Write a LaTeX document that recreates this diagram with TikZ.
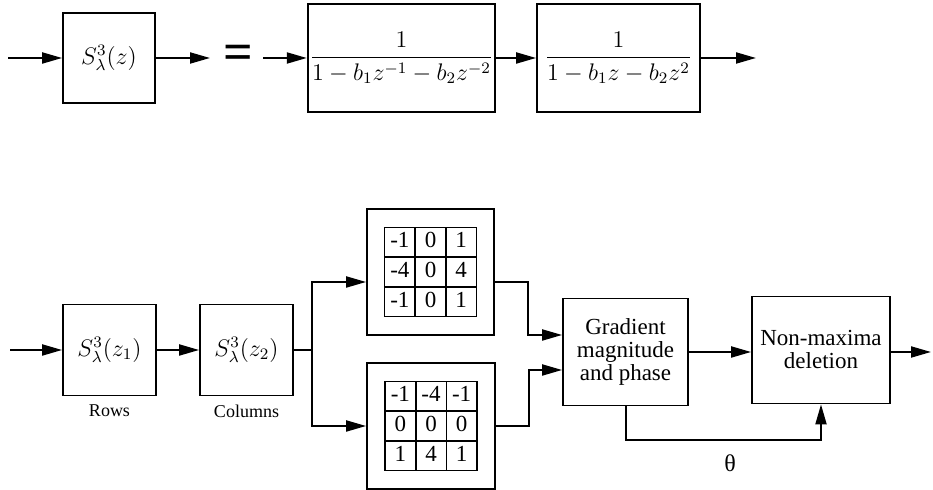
\documentclass[tikz,border=0pt]{standalone}
\usepackage{fontspec}
\setmainfont{Liberation Serif}
\usepackage{amsmath}
\usepackage{array}
\usetikzlibrary{arrows.meta,positioning}
\newcolumntype{K}{wc{14.5pt}}
\tikzset{
  block/.style={draw, line width=0.9pt, inner sep=1pt, align=center,
    font=\fontsize{11.5}{11.5}\selectfont},
  kernel/.style={draw, line width=0.9pt, inner sep=0pt,
    font=\fontsize{11.5}{12}\selectfont},
  sublabel/.style={font=\fontsize{9}{10}\selectfont, inner sep=1pt},
  arr/.style={line width=1pt, -{Triangle[length=10pt,width=5.5pt]}},
  wire/.style={line width=1pt},
}

\begin{document}
\begin{tikzpicture}[x=0.5pt, y=-0.5pt]
        \useasboundingbox (0,0) rectangle (933,490);

        % Top row: factorisation of the smoothing filter
        \node[block, minimum width=46pt, minimum height=45pt] at (109,58) (sz) {$S^3_\lambda(z)$};
        \node[font=\fontsize{26}{26}\selectfont\bfseries, inner sep=0pt] at (238,57) (equals) {=};
        \node[block, minimum width=81.5pt, minimum height=54pt] at (401.5,58) (causal)
                {$\dfrac{1}{1-b_1z^{-1}-b_2z^{-2}}$};
        \node[block, minimum width=81.5pt, minimum height=54pt] at (618.5,58) (anticausal)
                {$\dfrac{1}{1-b_1z-b_2z^{2}}$};

        \coordinate (sz_in) at (8,58);
        \coordinate (sz_out) at (210,58);
        \coordinate (causal_in) at (263,58);
        \coordinate (anticausal_out) at (756,58);

        \draw [arr] (sz_in) -- (sz);
        \draw [arr] (sz) -- (sz_out);
        \draw [arr] (causal_in) -- (causal);
        \draw [arr] (causal) -- (anticausal);
        \draw [arr] (anticausal) -- (anticausal_out);

        % Bottom row: edge detector
        \node[block, minimum width=46.5pt, minimum height=45.5pt] at (109.5,350) (rows) {$S^3_\lambda(z_1)$};
        \node[sublabel, below=3pt of rows] (rows_lbl) {Rows};

        \node[block, minimum width=46.5pt, minimum height=45.5pt] at (246.5,350) (cols) {$S^3_\lambda(z_2)$};
        \node[sublabel, below=3pt of cols] (cols_lbl) {Columns};

        \node[kernel, minimum width=63.5pt, minimum height=63pt] at (430.5,272) (kx) {%
                \setlength{\tabcolsep}{0pt}\setlength{\arrayrulewidth}{0.8pt}%
                \renewcommand{\arraystretch}{1.17}%
                \begin{tabular}{|K|K|K|}\hline
                -1 & 0 & 1\\\hline
                -4 & 0 & 4\\\hline
                -1 & 0 & 1\\\hline
                \end{tabular}};
        \node[kernel, minimum width=64pt, minimum height=63pt] at (431,426) (ky) {%
                \setlength{\tabcolsep}{0pt}\setlength{\arrayrulewidth}{0.8pt}%
                \renewcommand{\arraystretch}{1.17}%
                \begin{tabular}{|K|K|K|}\hline
                -1 & -4 & -1\\\hline
                0 & 0 & 0\\\hline
                1 & 4 & 1\\\hline
                \end{tabular}};

        \node[block, minimum width=62.5pt, minimum height=53.5pt] at (625.5,352) (grad)
                {Gradient\\magnitude\\and phase};
        \node[block, minimum width=69pt, minimum height=53.5pt] at (821,350) (nms)
                {Non-maxima\\deletion};

        \coordinate (rows_in) at (10,350);
        \coordinate (split) at (312,350);
        \coordinate (nms_out) at (931,352);

        \draw [arr] (rows_in) -- (rows);
        \draw [arr] (rows) -- (cols);
        \draw [wire] (cols) -- (split);
        \draw [arr] (split) |- ([yshift=-5pt]kx.west);
        \draw [arr] (split) |- (ky.west);

        % Kernels into gradient block
        \draw [arr] ([yshift=-5pt]kx.east) -- ++(33,0) |- ([yshift=8.5pt]grad.west);
        \draw [arr] (ky.east) -- ++(33,0) |- ([yshift=-9pt]grad.west);

        \draw [arr] (grad.east |- 0,352) -- (nms.west |- 0,352);
        \draw [arr] (nms.east |- 0,352) -- (nms_out);

        % Phase fed to non-maxima deletion
        \draw [arr] (grad.south) -- ++(0,34) -| (nms.south);
        \node[font=\fontsize{12}{12}\selectfont] at (730,463) (theta) {θ};
\end{tikzpicture}
\end{document}
